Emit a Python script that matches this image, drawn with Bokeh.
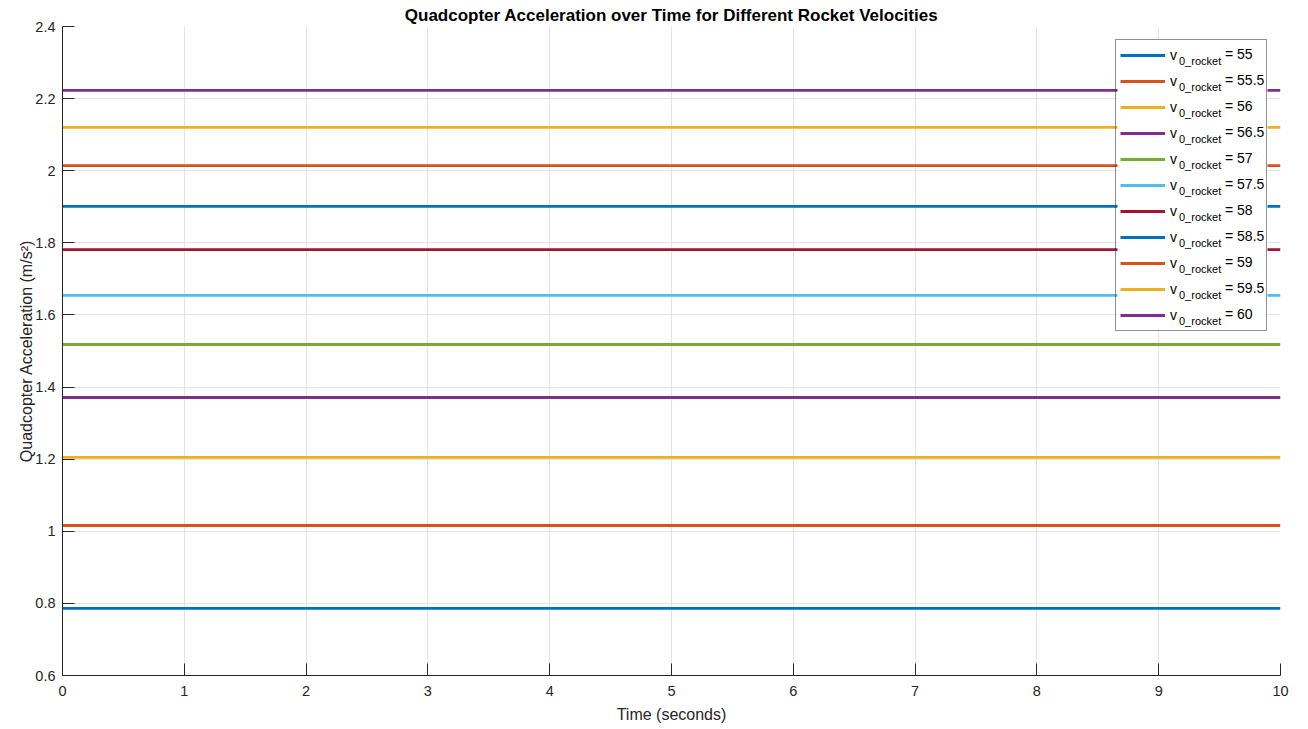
from bokeh.plotting import figure
from bokeh.models import (Legend, LegendItem, LabelSet, ColumnDataSource, FixedTicker,
                          NumeralTickFormatter, BoxAnnotation)
from bokeh.core.properties import value
from bokeh.embed import file_html
from bokeh.resources import INLINE

# ---------------- data ----------------
times = [0, 1, 2, 3, 4, 5, 6, 7, 8, 9, 10]
velocities = ["55", "55.5", "56", "56.5", "57", "57.5", "58", "58.5", "59", "59.5", "60"]
accelerations = [0.786, 1.016, 1.205, 1.371, 1.518, 1.654, 1.781, 1.901, 2.014, 2.120, 2.223]
colors = ["#0072BD", "#D95319", "#EDB120", "#7E2F8E", "#77AC30", "#4DBEEE", "#A2142F",
          "#0072BD", "#D95319", "#EDB120", "#7E2F8E"]
x_ticks = [0, 1, 2, 3, 4, 5, 6, 7, 8, 9, 10]
y_ticks = [0.6, 0.8, 1.0, 1.2, 1.4, 1.6, 1.8, 2.0, 2.2, 2.4]

X0, X1 = 0, 10
Y0, Y1 = 0.6, 2.4
FW, FH = 1218, 649
FONT = "Liberation Sans"
AXC = "#262626"

p = figure(frame_width=FW, frame_height=FH, x_range=(X0, X1), y_range=(Y0, Y1),
           output_backend="svg", toolbar_location=None,
           min_border_left=62, min_border_right=28, min_border_top=26, min_border_bottom=54,
           title="Quadcopter Acceleration over Time for Different Rocket Velocities")
p.title.align = "center"
p.title.text_font = FONT
p.title.text_font_size = "17px"
p.title.text_font_style = "bold"
p.title.text_color = "#000000"
p.title.standoff = 4
p.outline_line_color = None
p.background_fill_color = "white"

renderers = []
for vel, acc, col in zip(velocities, accelerations, colors):
    r = p.line(times, [acc] * len(times), line_color=col, line_width=2.8)
    renderers.append(r)

# axes
for ax in (p.xaxis[0], p.yaxis[0]):
    ax.major_tick_in = 12
    ax.major_tick_out = 0
    ax.minor_tick_in = 0
    ax.minor_tick_out = 0
    ax.axis_line_color = AXC
    ax.major_tick_line_color = AXC
    ax.major_label_text_font = FONT
    ax.major_label_text_font_size = "14.5px"
    ax.major_label_text_color = AXC
    ax.axis_label_text_font = FONT
    ax.axis_label_text_font_size = "16px"
    ax.axis_label_text_font_style = "normal"
    ax.axis_label_text_color = AXC

p.xaxis.ticker = FixedTicker(ticks=x_ticks)
p.yaxis.ticker = FixedTicker(ticks=y_ticks)
p.yaxis.formatter = NumeralTickFormatter(format="0.[0]")
p.xaxis.axis_label = "Time (seconds)"
p.yaxis.axis_label = "Quadcopter Acceleration (m/s²)"
p.xaxis.major_label_standoff = 10
p.xaxis.axis_label_standoff = 7
p.yaxis.major_label_standoff = 7
p.yaxis.axis_label_standoff = -3

p.xgrid.grid_line_color = "#e3e3e3"
p.ygrid.grid_line_color = "#e3e3e3"

# ---------------- legend ----------------
MARGIN, PAD, GW, GH, STAND, LW, SP = 13, 4, 45, 22, 5, 92, 4
N = len(velocities)
box_w = 2 * PAD + GW + STAND + LW
box_h = 2 * PAD + N * GH + (N - 1) * SP
box_left = FW - MARGIN - box_w
box_top = MARGIN
label_x = box_left + PAD + GW + STAND


def px2x(px):
    return X0 + px / FW * (X1 - X0)


def py2y(py):
    return Y1 - py / FH * (Y1 - Y0)


# opaque white backing behind the (transparent) legend
p.add_layout(BoxAnnotation(left=px2x(box_left), right=px2x(box_left + box_w),
                           top=py2y(box_top), bottom=py2y(box_top + box_h),
                           fill_color="white", fill_alpha=1.0, line_color=None))

items = [LegendItem(label="v", renderers=[r]) for r in renderers]
legend = Legend(items=items, location="top_right", margin=MARGIN, padding=PAD,
                glyph_width=GW, glyph_height=GH, label_height=GH, label_width=LW,
                label_standoff=STAND, spacing=SP,
                label_text_font=FONT, label_text_font_size="14px", label_text_color="#000000",
                border_line_color="#262626", border_line_width=1,
                background_fill_alpha=0.0)
p.add_layout(legend)

sub_x, sub_y, eq_x, eq_y, sub_t, eq_t = [], [], [], [], [], []
for i, vel in enumerate(velocities):
    cy = box_top + PAD + i * (GH + SP) + GH / 2
    sub_x.append(px2x(label_x + 7.5))
    sub_y.append(py2y(cy + 6.5))
    sub_t.append("0_rocket")
    eq_x.append(px2x(label_x + 7.5 + 42 + 4))
    eq_y.append(py2y(cy - 1))
    eq_t.append("= " + vel)

sub_src = ColumnDataSource(dict(x=sub_x, y=sub_y, t=sub_t))
eq_src = ColumnDataSource(dict(x=eq_x, y=eq_y, t=eq_t))
p.add_layout(LabelSet(x="x", y="y", text="t", source=sub_src, text_font=value(FONT),
                      text_font_size=value("11px"), text_color="#000000",
                      text_baseline="middle"))
p.add_layout(LabelSet(x="x", y="y", text="t", source=eq_src, text_font=value(FONT),
                      text_font_size=value("14px"), text_color="#000000",
                      text_baseline="middle"))

open("out.html", "w").write(file_html(p, INLINE))
